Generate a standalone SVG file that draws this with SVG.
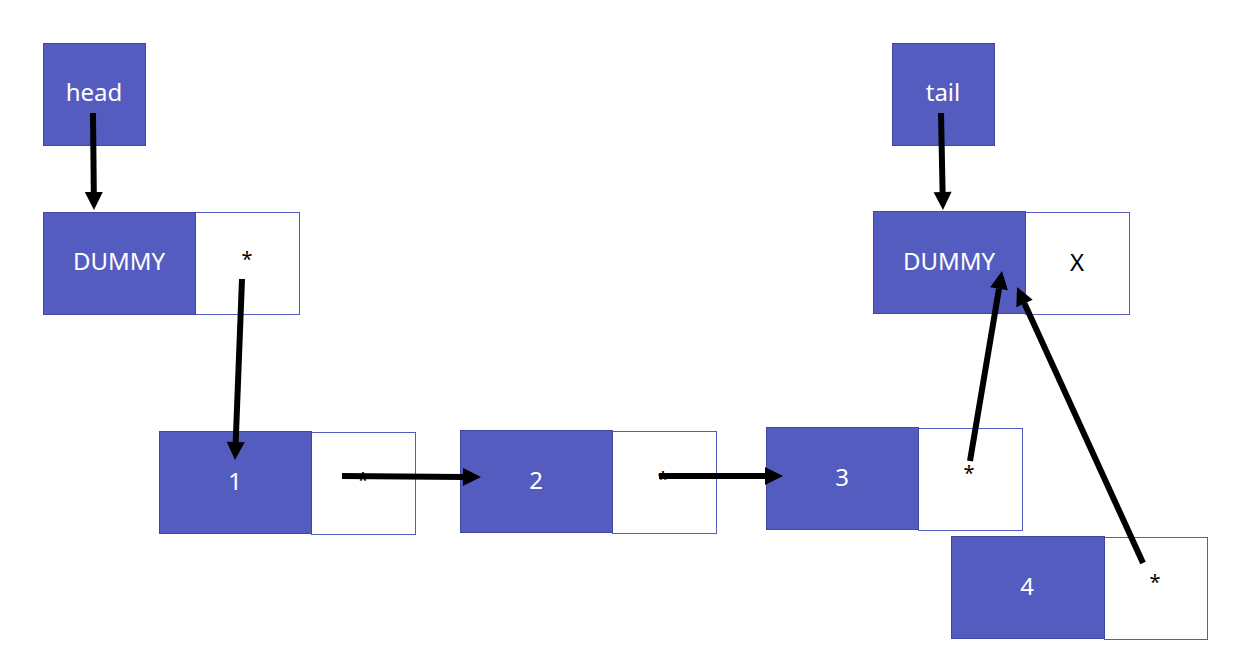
<svg xmlns="http://www.w3.org/2000/svg" width="1239" height="648" viewBox="0 0 1239 648">
<style>
.b{fill:#545cc0;stroke:#3f479f;stroke-width:1}
.w{fill:#fff;stroke:#545cc0;stroke-width:1}
.tw{fill:#fff;font-family:"Noto Sans","Liberation Sans",sans-serif;font-size:24px;text-anchor:middle}
.tb{fill:#000;font-family:"Noto Sans","Liberation Sans",sans-serif;font-size:24px;text-anchor:middle}
.ts{fill:#000;font-family:"Noto Sans","Liberation Sans",sans-serif;font-size:20px;text-anchor:middle}
.c{stroke:#000;stroke-width:6;fill:none;marker-end:url(#ah)}
</style>
<defs>
<marker id="ah" markerUnits="userSpaceOnUse" viewBox="0 -9 18 18" markerWidth="18" markerHeight="18" refX="0" refY="0" orient="auto" overflow="visible">
<path d="M0,-9 L18,0 L0,9 Z" fill="#000"/>
</marker>
</defs>
<rect width="1239" height="648" fill="#fff"/>
<g id="head"><rect class="b" x="43.5" y="43.5" width="102" height="102"/><text class="tw" x="94" y="101">head</text></g>
<g id="tail"><rect class="b" x="892.5" y="43.5" width="102" height="102"/><text class="tw" x="943" y="101">tail</text></g>
<g id="dummy1"><rect class="w" x="195.5" y="212.5" width="104" height="102"/><rect class="b" x="43.5" y="212.5" width="152" height="102"/><text class="tw" x="119" y="270">DUMMY</text><text class="ts" x="247" y="266">*</text></g>
<g id="dummy2"><rect class="w" x="1025.5" y="212.5" width="104" height="102"/><rect class="b" x="873.5" y="211.5" width="152" height="102"/><text class="tw" x="949" y="270">DUMMY</text><text class="tb" x="1077" y="271">X</text></g>
<g id="n1"><rect class="w" x="311.5" y="432.5" width="104" height="102"/><rect class="b" x="159.5" y="431.5" width="152" height="102"/><text class="tw" x="235" y="490">1</text><text class="ts" x="363" y="487">*</text></g>
<g id="n2"><rect class="w" x="612.5" y="431.5" width="104" height="102"/><rect class="b" x="460.5" y="430.5" width="152" height="102"/><text class="tw" x="536" y="489">2</text><text class="ts" x="663" y="486">*</text></g>
<g id="n3"><rect class="w" x="918.5" y="428.5" width="104" height="102"/><rect class="b" x="766.5" y="427.5" width="152" height="102"/><text class="tw" x="842" y="486">3</text><text class="ts" x="969" y="480">*</text></g>
<g id="n4"><rect class="w" x="1104.5" y="537.5" width="103" height="102"/><rect class="b" x="951.5" y="536.5" width="153" height="102"/><text class="tw" x="1027" y="595">4</text><text class="ts" x="1155" y="589">*</text></g>
<g id="connectors">
<path class="c" d="M93,113 L93.8,192"/>
<path class="c" d="M242,279 L235.7,442"/>
<path class="c" d="M342,476 L463,476.9"/>
<path class="c" d="M659,476 L765,476"/>
<path class="c" d="M941,113 L942.6,192"/>
<path class="c" d="M970,461 L999,288.7"/>
<path class="c" d="M1143,563 L1024.5,303.4"/>
</g>
</svg>
